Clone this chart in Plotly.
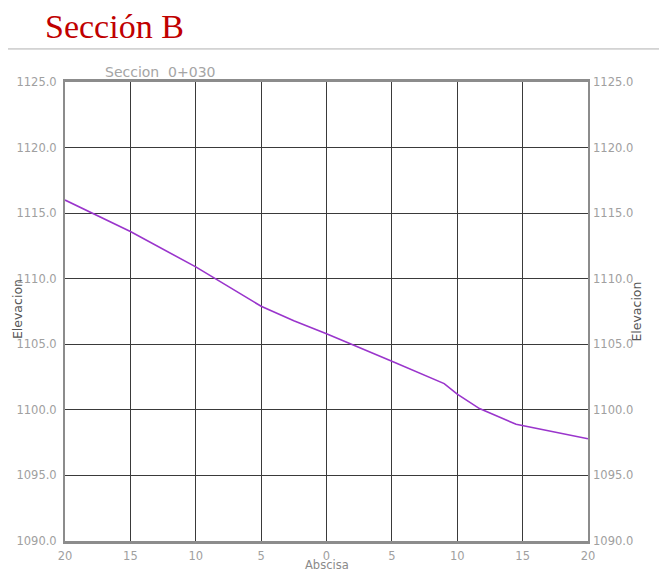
import plotly.graph_objects as go

# Data
abscisa = [-20, -15, -10, -5, -2.5, 0, 5, 9, 10, 11.7, 14.5, 20]
elevacion = [1116.0, 1113.6, 1110.9, 1107.9, 1106.8, 1105.8, 1103.7, 1102.0, 1101.2, 1100.1, 1098.9, 1097.8]

x_tickvals = [-20, -15, -10, -5, 0, 5, 10, 15, 20]
x_ticktext = ["20", "15", "10", "5", "0", "5", "10", "15", "20"]
y_tickvals = [1090, 1095, 1100, 1105, 1110, 1115, 1120, 1125]

title_text = "Sección B"
subtitle_text = "Seccion  0+030"

fig = go.Figure()
fig.add_trace(go.Scatter(x=abscisa, y=elevacion, mode="lines",
                         line=dict(color="#9a35cc", width=1.6),
                         showlegend=False, hoverinfo="skip"))
# invisible trace so the right-side axis renders
fig.add_trace(go.Scatter(x=abscisa, y=elevacion, mode="lines", yaxis="y2",
                         line=dict(color="rgba(0,0,0,0)", width=0),
                         showlegend=False, hoverinfo="skip"))

sans = "DejaVu Sans, Verdana, sans-serif"
tickfont = dict(family=sans, size=11.5, color="#a0a0a0")

# page body has an 8px margin, so the figure is sized/offset to compensate
fig.update_layout(
    width=659, height=563,
    margin=dict(l=57, r=79, t=74, b=30, autoexpand=False),
    paper_bgcolor="white", plot_bgcolor="white",
    xaxis=dict(range=[-20, 20], tickvals=x_tickvals, ticktext=x_ticktext,
               showgrid=True, gridcolor="#3a3a3a", gridwidth=1.3, automargin=False,
               zeroline=False, showline=True, linecolor="#8c8c8c", linewidth=3,
               mirror=True, ticks="", tickfont=tickfont, ticklabelstandoff=2),
    yaxis=dict(range=[1090, 1125], tickvals=y_tickvals, tickformat=".1f",
               showgrid=True, gridcolor="#3a3a3a", gridwidth=1.3, automargin=False,
               zeroline=False, showline=True, linecolor="#8c8c8c", linewidth=2,
               mirror=True, ticks="", tickfont=tickfont, ticklabelstandoff=4),
    yaxis2=dict(range=[1090, 1125], tickvals=y_tickvals, tickformat=".1f",
                overlaying="y", side="right", showgrid=False, zeroline=False,
                automargin=False,
                showline=False, ticks="", tickfont=tickfont, ticklabelstandoff=4),
    shapes=[
        dict(type="line", xref="paper", yref="paper", x0=-0.109, x1=1.17,
             y0=1.072, y1=1.072, line=dict(color="#b0b0b0", width=1)),
    ],
    annotations=[
        dict(text=title_text, xref="paper", yref="paper", x=-0.042, y=1.121,
             xanchor="left", yanchor="middle", showarrow=False,
             font=dict(family="Liberation Serif, Times New Roman, serif", size=34, color="#c00000")),
        dict(text=subtitle_text, xref="paper", yref="paper", x=0.072, y=1.022,
             xanchor="left", yanchor="middle", showarrow=False,
             font=dict(family=sans, size=14, color="#a5a5a5")),
        dict(text="Abscisa", xref="paper", yref="paper", x=0.5, y=-0.052,
             xanchor="center", yanchor="middle", showarrow=False,
             font=dict(family=sans, size=11.5, color="#8a8a8a")),
        dict(text="Elevacion", xref="paper", yref="paper", x=-0.092, y=0.505,
             xanchor="center", yanchor="middle", showarrow=False, textangle=-90,
             font=dict(family=sans, size=12.5, color="#555555")),
        dict(text="Elevacion", xref="paper", yref="paper", x=1.092, y=0.50,
             xanchor="center", yanchor="middle", showarrow=False, textangle=-90,
             font=dict(family=sans, size=12.5, color="#555555")),
    ],
)

fig.write_html("out.html")
